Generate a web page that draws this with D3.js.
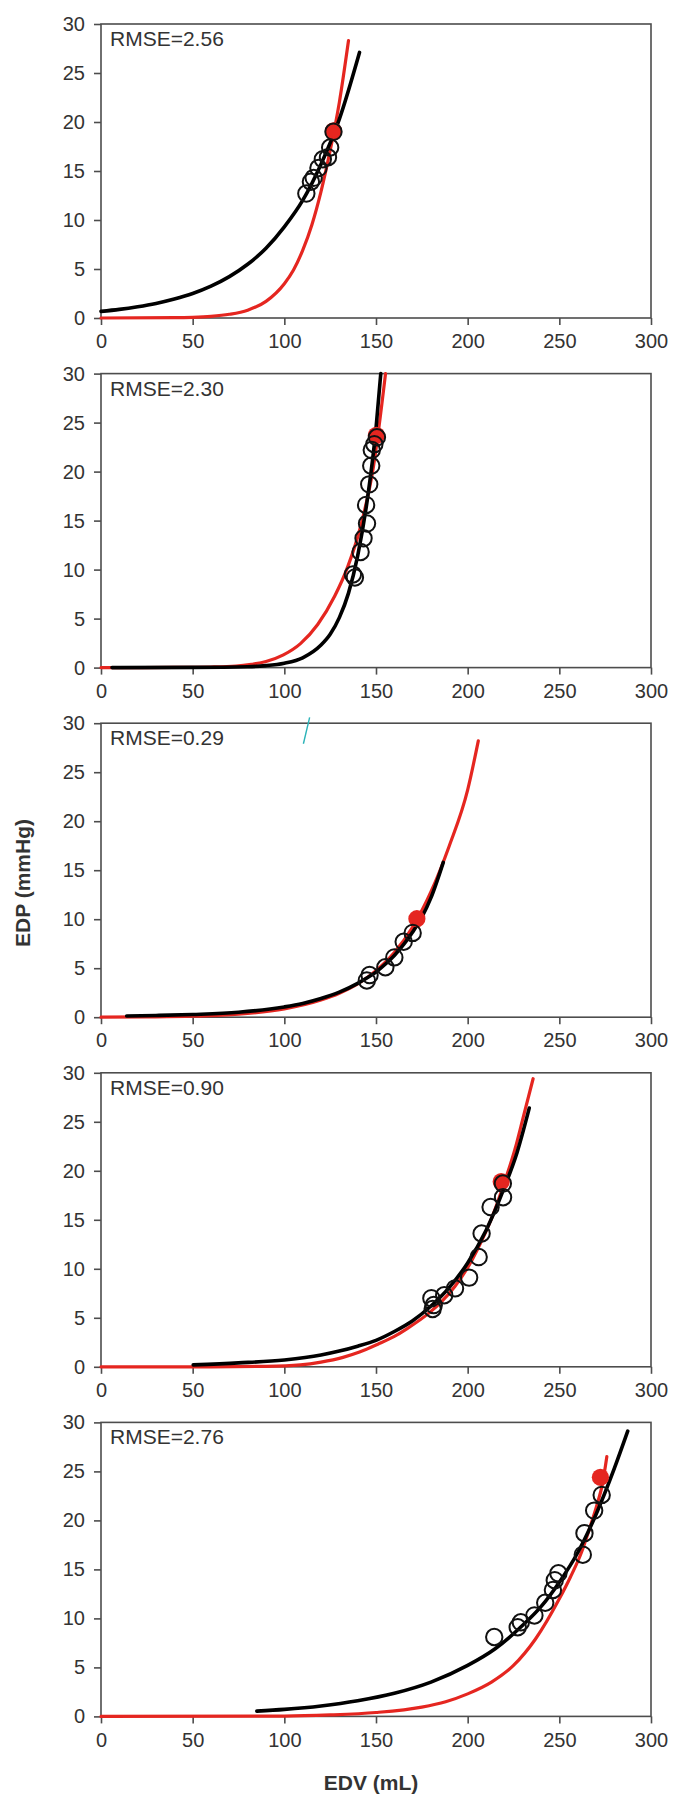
<!DOCTYPE html>
<html>
<head>
<meta charset="utf-8">
<script src="https://cdn.jsdelivr.net/npm/d3@7"></script>
<style>
  html, body { margin: 0; padding: 0; background: #fff; }
  svg { display: block; }
</style>
</head>
<body>
<svg id="chart" width="673" height="1795"></svg>
<script>
// Axis ticks shared by all five panels
const xTicks = [0, 50, 100, 150, 200, 250, 300];
const yTicks = [0, 5, 10, 15, 20, 25, 30];
const rmseLabels = ["RMSE=2.56", "RMSE=2.30", "RMSE=0.29", "RMSE=0.90", "RMSE=2.76"];

// Panel 1 – points are [EDV mL, EDP mmHg]
const predicted1 = [[0,0],[40,0.03],[50,0.07],[60,0.17],[70,0.38],[80,0.8],[90,1.7],[100,3.5],[105,4.9],[110,6.9],[115,9.5],[120,12.9],[125,17.1],[130,22.0],[135,28.3]];
const fitted1 = [[0,0.68],[10,0.88],[20,1.15],[30,1.49],[40,1.94],[50,2.5],[60,3.25],[70,4.22],[80,5.48],[90,7.12],[100,9.3],[110,12.0],[120,15.7],[130,20.3],[141,27.1]];
const measured1 = [[112.0,12.7],[114.5,13.9],[116,14.3],[118.6,15.3],[121,16.2],[123.8,16.4],[125,17.4],[126.8,19.0]];
const highlight1 = [[126.8,19.1]];

// Panel 2
const predicted2 = [[0,0],[40,0.02],[60,0.06],[73.7,0.15],[82,0.33],[90,0.62],[99.5,1.3],[108.8,2.45],[118.2,4.4],[127.5,7.3],[134.6,10.3],[141.6,14.4],[148.6,20.5],[155.2,30]];
const fitted2 = [[6,0],[50,0.02],[80,0.09],[90,0.2],[100,0.45],[110,1.0],[120,2.3],[125,3.4],[130,5.1],[135,7.6],[140,11.4],[145,16.8],[150,24.4],[152.6,30]];
const measured2 = [[137.4,9.5],[138.5,9.2],[141.6,11.8],[143.2,13.2],[145.1,14.7],[144.6,16.6],[146.3,18.7],[147.4,20.6],[147.7,22.2],[149.1,22.8],[150.5,23.5]];
const highlight2 = [[150.2,23.7]];

// Panel 3
const predicted3 = [[0,0],[25,0.03],[50,0.1],[75,0.3],[100,0.85],[120,1.75],[130,2.45],[140,3.4],[150,4.75],[160,6.6],[170,9.2],[180,12.8],[190,17.5],[200,23.2],[205.8,28.2]];
const fitted3 = [[14,0.12],[30,0.18],[50,0.28],[75,0.5],[100,1.05],[110,1.4],[120,1.9],[130,2.55],[140,3.45],[145,4.0],[150,4.6],[155,5.4],[160,6.3],[165,7.4],[170,8.7],[175,10.2],[180,12.2],[186.7,15.8]];
const measured3 = [[145,3.75],[146.5,4.3],[155.1,5.1],[160,6.1],[165.1,7.7],[170,8.6]];
const highlight3 = [[172.3,10.05]];
const penStroke3 = [[110.4,27.9],[113.8,30.6]];

// Panel 4
const predicted4 = [[0,0],[60,0],[90,0.05],[108.8,0.2],[120,0.48],[132,0.96],[141,1.5],[151,2.3],[160,3.1],[167,3.9],[179,5.5],[186,6.7],[193,8.2],[202.4,10.9],[208,13.0],[214,15.6],[220,18.8],[225.8,22.2],[230.5,25.6],[235.7,29.4]];
const fitted4 = [[50.3,0.2],[75,0.4],[100,0.7],[120,1.2],[130,1.6],[140,2.1],[150,2.7],[160,3.6],[170,4.7],[180,6.2],[190,8.1],[200,10.6],[210,13.9],[220,18.3],[227,21.9],[233.6,26.4]];
const measured4 = [[180.2,7.0],[180.9,5.9],[181.5,6.3],[187.2,7.3],[193.1,8.0],[200.8,9.1],[206,11.2],[207.6,13.6],[212.5,16.3],[219.3,17.3],[219.2,18.7]];
const highlight4 = [[218.3,18.9]];

// Panel 5
const predicted5 = [[0,0],[100,0.03],[125,0.15],[150,0.4],[175,0.95],[188,1.5],[200,2.3],[213,3.5],[225,5.2],[237,7.9],[250,12.0],[256,14.2],[262.2,16.8],[266,18.9],[270.4,21.5],[273.5,23.7],[275.9,26.5]];
const fitted5 = [[85,0.54],[100,0.72],[120,1.07],[140,1.6],[160,2.36],[180,3.5],[200,5.2],[215,6.9],[230,9.3],[240,11.2],[250,13.7],[260,16.7],[270,20.6],[280,25.3],[287.3,29.1]];
const measured5 = [[214.5,8.1],[227.3,9.1],[229,9.6],[236.4,10.3],[242.3,11.6],[246.5,12.9],[247.5,13.9],[249.5,14.6],[262.8,16.5],[263.7,18.7],[269,21.0],[273.1,22.6]];
const highlight5 = [[272.4,24.4]];

const panels = [
  { predicted: predicted1, fitted: fitted1, measured: measured1, highlight: highlight1, rmse: rmseLabels[0] },
  { predicted: predicted2, fitted: fitted2, measured: measured2, highlight: highlight2, rmse: rmseLabels[1] },
  { predicted: predicted3, fitted: fitted3, measured: measured3, highlight: highlight3, rmse: rmseLabels[2], stroke: penStroke3 },
  { predicted: predicted4, fitted: fitted4, measured: measured4, highlight: highlight4, rmse: rmseLabels[3] },
  { predicted: predicted5, fitted: fitted5, measured: measured5, highlight: highlight5, rmse: rmseLabels[4] }
];

const FONT = "'Liberation Sans', Arial, Helvetica, sans-serif";
const RED = "#e52620";
const FRAME = "#4d4d4d";
const TEXT = "#333";

const plotLeft = 101, plotRight = 651;
const firstTop = 24, panelStep = 349.6, panelHeight = 294;

const svg = d3.select("#chart");
const x = d3.scaleLinear().domain([0, 300]).range([plotLeft, plotRight]);

panels.forEach((p, i) => {
  const top = firstTop + i * panelStep;
  const bottom = top + panelHeight;
  const y = d3.scaleLinear().domain([0, 30]).range([bottom, top]);
  const g = svg.append("g");

  const line = d3.line()
    .x(d => x(d[0]))
    .y(d => y(d[1]))
    .curve(d3.curveMonotoneX);

  // axes
  const xAxis = d3.axisBottom(x).tickValues(xTicks).tickSize(7).tickPadding(9).tickFormat(d3.format("d"));
  const yAxis = d3.axisLeft(y).tickValues(yTicks).tickSize(7).tickPadding(9).tickFormat(d3.format("d"));

  const gx = g.append("g").attr("transform", `translate(0,${bottom})`).call(xAxis);
  const gy = g.append("g").attr("transform", `translate(${plotLeft},0)`).call(yAxis);
  [gx, gy].forEach(a => {
    a.select(".domain").remove();
    a.selectAll(".tick line").attr("stroke", FRAME).attr("stroke-width", 1.6);
    a.selectAll(".tick text")
      .attr("fill", TEXT)
      .style("font-family", FONT)
      .style("font-size", "20px");
  });

  // frame
  g.append("rect")
    .attr("x", plotLeft).attr("y", top)
    .attr("width", plotRight - plotLeft).attr("height", panelHeight)
    .attr("fill", "none").attr("stroke", FRAME).attr("stroke-width", 1.6);

  // predicted curve (red) and fitted curve (black)
  g.append("path").datum(p.predicted).attr("d", line)
    .attr("fill", "none").attr("stroke", RED).attr("stroke-width", 3.2).attr("stroke-linecap", "round");
  g.append("path").datum(p.fitted).attr("d", line)
    .attr("fill", "none").attr("stroke", "#000").attr("stroke-width", 3.6).attr("stroke-linecap", "round");

  // end-diastolic reference beat (filled) under the measured beats (open)
  g.selectAll("circle.highlight").data(p.highlight).join("circle")
    .attr("class", "highlight")
    .attr("cx", d => x(d[0])).attr("cy", d => y(d[1])).attr("r", 8.6)
    .attr("fill", RED).attr("stroke", "none");

  g.selectAll("circle.measured").data(p.measured).join("circle")
    .attr("class", "measured")
    .attr("cx", d => x(d[0])).attr("cy", d => y(d[1])).attr("r", 8.2)
    .attr("fill", "none").attr("stroke", "#111").attr("stroke-width", 2);

  if (p.stroke) {
    g.append("path").datum(p.stroke)
      .attr("d", d3.line().x(d => x(d[0])).y(d => y(d[1])))
      .attr("stroke", "#2bb3b8").attr("stroke-width", 1.4).attr("fill", "none");
  }

  g.append("text")
    .attr("x", plotLeft + 9).attr("y", top + 22)
    .attr("fill", TEXT)
    .style("font-family", FONT).style("font-size", "21px")
    .text(p.rmse);
});

// axis titles
svg.append("text")
  .attr("transform", "translate(29.5,883) rotate(-90)")
  .attr("text-anchor", "middle")
  .attr("fill", TEXT)
  .style("font-family", FONT).style("font-size", "21px").style("font-weight", "bold")
  .text("EDP (mmHg)");

svg.append("text")
  .attr("x", 371).attr("y", 1790)
  .attr("text-anchor", "middle")
  .attr("fill", TEXT)
  .style("font-family", FONT).style("font-size", "21px").style("font-weight", "bold")
  .text("EDV (mL)");
</script>
</body>
</html>
